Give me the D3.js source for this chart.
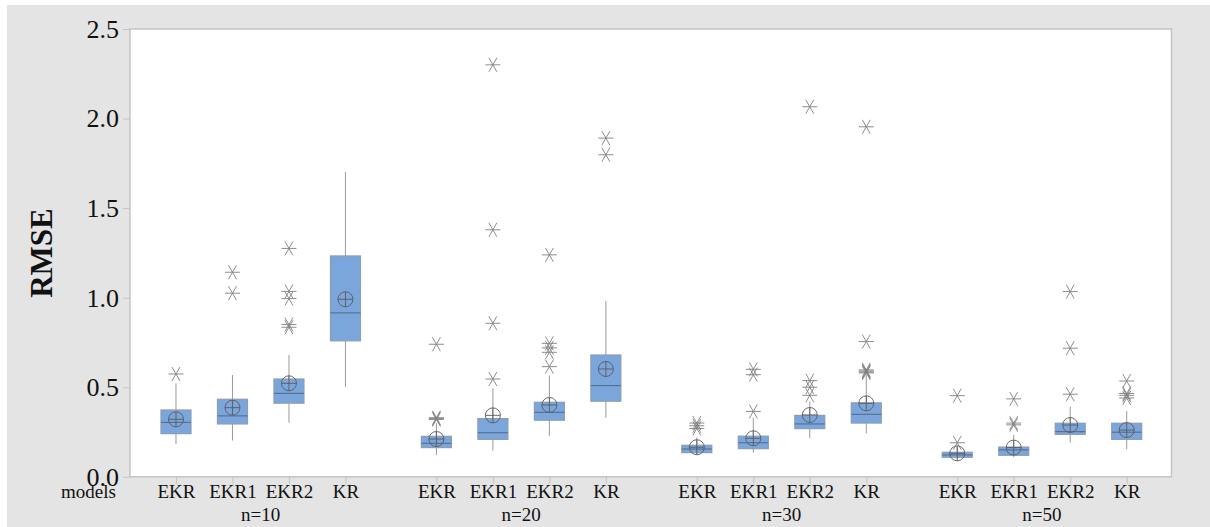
<!DOCTYPE html>
<html>
<head>
<meta charset="utf-8">
<script src="https://cdn.jsdelivr.net/npm/d3@7"></script>
<style>
  body { margin: 0; background: #fff; }
</style>
</head>
<body>
<div id="chart"></div>
<script>
// RMSE boxplots, 4 models per sample size

const groups = ["n=10", "n=20", "n=30", "n=50"];
const models = ["EKR", "EKR1", "EKR2", "KR"];
const yTicks = [0, 0.5, 1.0, 1.5, 2.0, 2.5];

// one value per box, order: n=10 EKR..KR, n=20 EKR..KR, ...
const whiskerLo = [0.182, 0.202, 0.302, 0.502,  0.122, 0.146, 0.228, 0.330,  0.126, 0.135, 0.215, 0.242,  0.100, 0.109, 0.190, 0.154];
const q1        = [0.241, 0.295, 0.411, 0.759,  0.163, 0.209, 0.316, 0.422,  0.135, 0.157, 0.269, 0.300,  0.109, 0.120, 0.237, 0.209];
const median    = [0.304, 0.340, 0.466, 0.915,  0.187, 0.246, 0.360, 0.509,  0.155, 0.190, 0.295, 0.349,  0.122, 0.150, 0.252, 0.249];
const q3        = [0.373, 0.433, 0.546, 1.233,  0.226, 0.325, 0.416, 0.680,  0.176, 0.227, 0.343, 0.413,  0.137, 0.166, 0.299, 0.299];
const whiskerHi = [0.522, 0.569, 0.680, 1.701,  0.300, 0.494, 0.565, 0.982,  0.220, 0.330, 0.420, 0.570,  0.165, 0.234, 0.392, 0.368];
const means     = [0.321, 0.386, 0.522, 0.991,  0.211, 0.343, 0.401, 0.602,  0.165, 0.215, 0.345, 0.410,  0.131, 0.163, 0.289, 0.261];
const outliers  = [
  [0.574], [1.142, 1.025], [1.275, 1.035, 0.995, 0.850, 0.835], [],
  [0.740, 0.330, 0.325, 0.320], [2.300, 1.379, 0.857, 0.546], [1.239, 0.745, 0.720, 0.695, 0.615], [1.891, 1.798],
  [0.300, 0.285, 0.270], [0.600, 0.570, 0.365], [2.066, 0.537, 0.500, 0.455], [1.954, 0.755, 0.597, 0.590, 0.585, 0.580],
  [0.453, 0.190], [0.435, 0.300, 0.290], [1.034, 0.718, 0.461], [0.535, 0.465, 0.455, 0.440]
];

const width = 1210, height = 527;
const plot = { left: 130, top: 29, right: 1171.5, bottom: 476.8 };
const groupStep = 4.61;   // slot units between first boxes of consecutive groups
const boxW = 30;
const serif = "'Liberation Serif', 'Times New Roman', serif";

const svg = d3.select("#chart").append("svg")
    .attr("width", width)
    .attr("height", height)
    .attr("font-family", serif);

// grey frame
svg.append("rect")
    .attr("x", 7).attr("y", 5)
    .attr("width", width - 7).attr("height", height - 5)
    .attr("fill", "#e4e4e4");

// plot area
svg.append("rect")
    .attr("x", plot.left).attr("y", plot.top)
    .attr("width", plot.right - plot.left).attr("height", plot.bottom - plot.top)
    .attr("fill", "#fff")
    .attr("stroke", "#c4c4c4")
    .attr("stroke-width", 1.5);

const boxes = [];
groups.forEach((g, gi) => {
    models.forEach((m, mi) => {
        const k = gi * models.length + mi;
        boxes.push({
            group: g, model: m, pos: gi * groupStep + mi,
            lo: whiskerLo[k], q1: q1[k], med: median[k], q3: q3[k], hi: whiskerHi[k],
            mean: means[k], out: outliers[k]
        });
    });
});

const lastPos = (groups.length - 1) * groupStep + models.length - 1;
const x = d3.scaleLinear()
    .domain([-0.814, lastPos + 0.793])
    .range([plot.left, plot.right]);

const y = d3.scaleLinear()
    .domain([0, 2.5])
    .range([plot.bottom, plot.top]);

// y axis
const yAxis = svg.append("g")
    .attr("transform", `translate(${plot.left},0)`)
    .call(d3.axisLeft(y).tickValues(yTicks).tickFormat(d3.format(".1f")).tickSize(7).tickPadding(4));
yAxis.attr("font-family", serif);
yAxis.select(".domain").remove();
yAxis.selectAll("line").attr("stroke", "#c4c4c4");
yAxis.selectAll("text")
    .style("font-family", serif)
    .style("font-size", "26px")
    .attr("fill", "#111");

// x axis
const xAxis = svg.append("g")
    .attr("transform", `translate(0,${plot.bottom})`)
    .call(d3.axisBottom(x).tickValues(boxes.map(d => d.pos))
        .tickFormat((d, i) => boxes[i].model).tickSize(7).tickPadding(1));
xAxis.attr("font-family", serif);
xAxis.select(".domain").remove();
xAxis.selectAll("line").attr("stroke", "#c4c4c4");
xAxis.selectAll("text")
    .style("font-family", serif)
    .style("font-size", "19px")
    .attr("fill", "#111");

// group labels
svg.append("g").selectAll("text")
    .data(groups)
    .join("text")
    .attr("x", (d, gi) => x(gi * groupStep + (models.length - 1) / 2))
    .attr("y", 521)
    .attr("text-anchor", "middle")
    .style("font-family", serif)
    .style("font-size", "19px")
    .attr("fill", "#111")
    .text(d => d);

svg.append("text")
    .attr("x", 61).attr("y", 498)
    .style("font-family", serif)
    .style("font-size", "19px")
    .attr("fill", "#111")
    .text("models");

// y title
svg.append("text")
    .attr("transform", `translate(52,253) rotate(-90)`)
    .attr("text-anchor", "middle")
    .style("font-family", serif)
    .style("font-size", "31px")
    .style("font-weight", "bold")
    .attr("fill", "#111")
    .text("RMSE");

const bx = svg.append("g").selectAll("g")
    .data(boxes)
    .join("g")
    .attr("transform", d => `translate(${x(d.pos)},0)`);

// whiskers
bx.append("line")
    .attr("y1", d => y(d.lo)).attr("y2", d => y(d.q1))
    .attr("stroke", "#9a9a9a");
bx.append("line")
    .attr("y1", d => y(d.q3)).attr("y2", d => y(d.hi))
    .attr("stroke", "#9a9a9a");

// boxes
bx.append("rect")
    .attr("x", -boxW / 2)
    .attr("width", boxW)
    .attr("y", d => y(d.q3))
    .attr("height", d => y(d.q1) - y(d.q3))
    .attr("fill", "#7ba6db")
    .attr("stroke", "#8c9db5")
    .attr("stroke-width", 1.2);

bx.append("line")
    .attr("x1", -boxW / 2).attr("x2", boxW / 2)
    .attr("y1", d => y(d.med)).attr("y2", d => y(d.med))
    .attr("stroke", "#4f6888");

// mean: circle with cross
const mean = bx.append("g").attr("transform", d => `translate(0,${y(d.mean)})`);
mean.append("circle").attr("r", 7.5).attr("fill", "none").attr("stroke", "#5a5a5a").attr("stroke-width", 0.9);
mean.append("path").attr("d", "M-7.5,0H7.5M0,-7.5V7.5").attr("stroke", "#5a5a5a").attr("stroke-width", 0.9);

// outliers as asterisks
bx.selectAll("path.out")
    .data(d => d.out)
    .join("path")
    .attr("class", "out")
    .attr("transform", v => `translate(0,${y(v)})`)
    .attr("d", "M-7.5,0H7.5M-4,-7L4,7M4,-7L-4,7")
    .attr("fill", "none")
    .attr("stroke", "#808080")
    .attr("stroke-width", 0.9);

// white strips at left / top edge
svg.append("rect").attr("x", 0).attr("y", 0).attr("width", 7).attr("height", height).attr("fill", "#fff");
svg.append("rect").attr("x", 0).attr("y", 0).attr("width", width).attr("height", 5).attr("fill", "#fff");
</script>
</body>
</html>
